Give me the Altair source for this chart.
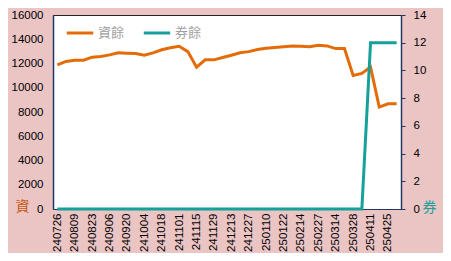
import altair as alt
import pandas as pd

dates = ["240726", "240802", "240809", "240816", "240823", "240830", "240906", "240913",
         "240920", "240927", "241004", "241011", "241018", "241025", "241101", "241108",
         "241115", "241122", "241129", "241206", "241213", "241220", "241227", "250103",
         "250110", "250117", "250122", "250207", "250214", "250221", "250227", "250307",
         "250314", "250321", "250328", "250402", "250411", "250418", "250425", "250502"]
zi = [11880, 12170, 12270, 12270, 12520, 12570, 12710, 12880, 12850, 12820,
      12680, 12880, 13130, 13300, 13420, 12980, 11700, 12300, 12300, 12490,
      12680, 12880, 12980, 13150, 13250, 13320, 13390, 13450, 13420, 13390,
      13500, 13450, 13230, 13230, 11010, 11180, 11700, 8410, 8680, 8680]
quan = [0] * 36 + [12] * 4
tick_dates = dates[::2]
series = ["資餘", "券餘"]

df = pd.DataFrame({"date": dates, "資餘": zi, "券餘": quan})

color_scale = alt.Scale(domain=series, range=["#E36C09", "#17A09A"])
navy = "#1F3864"
font = "Liberation Sans"

x = alt.X("date:O", sort=None, scale=alt.Scale(type="point", padding=0.5),
          axis=alt.Axis(values=tick_dates, labelAngle=270, labelAlign="right",
                        labelBaseline="middle", labelFontSize=11.5, labelColor="#000",
                        labelFont=font, labelPadding=4, ticks=False, domain=True,
                        domainColor=navy, title=None))

legend = alt.Legend(orient="none", legendX=12, legendY=3,
                    direction="horizontal", title=None,
                    symbolType="stroke", symbolSize=700,
                    symbolStrokeWidth=3, labelFontSize=13,
                    labelColor="#A0A0A0", labelFont="Noto Sans CJK TC",
                    labelOffset=3, columnPadding=12)

left = alt.Chart(df).transform_calculate(s="'資餘'").mark_line(strokeWidth=3).encode(
    x=x,
    y=alt.Y("資餘:Q", scale=alt.Scale(domain=[0, 16000]),
            axis=alt.Axis(values=list(range(0, 16001, 2000)), format="d", ticks=False,
                          grid=False, domainColor=navy, domainWidth=1.5, labelPadding=10,
                          labelFontSize=11.5, labelColor="#000", labelFont=font,
                          title="資", titleAngle=0, titleX=-31, titleY=191,
                          titleAlign="center", titleBaseline="middle",
                          titleColor="#C55A11", titleFont="Noto Sans CJK TC",
                          titleFontSize=14, titleFontWeight="normal")),
    color=alt.Color("s:N", scale=color_scale, legend=legend),
)

right = alt.Chart(df).transform_calculate(s="'券餘'").mark_line(strokeWidth=3).encode(
    x=x,
    y=alt.Y("券餘:Q", scale=alt.Scale(domain=[0, 14]),
            axis=alt.Axis(orient="right", values=list(range(0, 15, 2)), format="d",
                          ticks=True, tickColor=navy, tickSize=4, grid=False,
                          domainColor=navy, domainWidth=1.5, labelPadding=8,
                          labelFontSize=11.5, labelColor="#000", labelFont=font,
                          title="券", titleAngle=0, titleX=28, titleY=192,
                          titleAlign="center", titleBaseline="middle",
                          titleColor="#17A09A", titleFont="Noto Sans CJK TC",
                          titleFontSize=14, titleFontWeight="normal")),
    color=alt.Color("s:N", scale=color_scale, legend=legend),
)

chart = alt.layer(left, right).resolve_scale(y="independent").properties(
    width=348, height=194,
    autosize=alt.AutoSizeParams(type="none"),
    padding={"left": 45, "top": 7, "right": 42, "bottom": 44},
    background="#EBC4C4",
).configure_view(fill="white", stroke="#222", strokeWidth=1)

chart.save("out.html", embed_options={"renderer": "svg", "actions": False})
